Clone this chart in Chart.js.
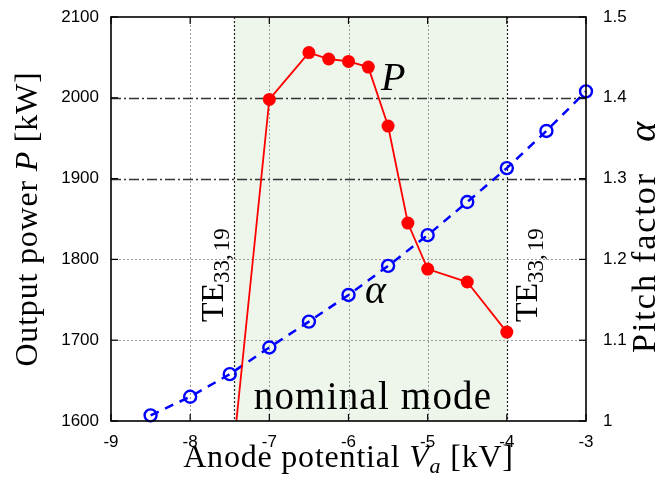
<!DOCTYPE html>
<html><head><meta charset="utf-8">
<script src="https://cdn.jsdelivr.net/npm/chart.js@4.4.0/dist/chart.umd.min.js"></script>
<style>html,body{margin:0;padding:0;background:#fff;} #wrap{width:669px;height:487px;}</style>
</head><body><div id="wrap"><canvas id="c" width="669" height="487"></canvas></div>
<script>
// ---- data ----
const powerVoltage = [-7.5, -7, -6.5, -6.25, -6, -5.75, -5.5, -5.25, -5, -4.5, -4];
const outputPower = [1520, 1998, 2056, 2048, 2045, 2038, 1965, 1845, 1788, 1772, 1710];
const alphaVoltage = [-8.5, -8, -7.5, -7, -6.5, -6, -5.5, -5, -4.5, -4, -3.5, -3];
const pitchFactor = [1.007, 1.030, 1.058, 1.091, 1.123, 1.156, 1.192, 1.230, 1.271, 1.313, 1.359, 1.408];
const xTickLabels = ['-9', '-8', '-7', '-6', '-5', '-4', '-3'];
const powerTickLabels = ['1600', '1700', '1800', '1900', '2000', '2100'];
const pitchTickLabels = ['1', '1.1', '1.2', '1.3', '1.4', '1.5'];
const nominalModeRange = [-7.45, -4];
const referencePowerLevels = [1900, 2000];

const SERIF = '"Liberation Serif", "Times New Roman", serif';
const SANS = '"Liberation Sans", Arial, sans-serif';

function drawRuns(ctx, runs, x, y, align) {
  let total = 0;
  runs.forEach(r => { ctx.font = r.font; r.w = ctx.measureText(r.text).width; total += r.w + (r.gap || 0); });
  let cx = align === 'center' ? x - total / 2 : x;
  runs.forEach(r => { ctx.font = r.font; ctx.fillText(r.text, cx, y + (r.dy || 0)); cx += r.w + (r.gap || 0); });
}
function seg(ctx, x0, y0, x1, y1) { ctx.beginPath(); ctx.moveTo(x0, y0); ctx.lineTo(x1, y1); ctx.stroke(); }
function noPad(s) { s.paddingTop = 0; s.paddingBottom = 0; s.paddingLeft = 0; s.paddingRight = 0; }

const decor = {
  id: 'decor',
  beforeDatasetsDraw(chart) {
    const { ctx, chartArea: a, scales: { x, y } } = chart;
    ctx.save();
    const s0 = x.getPixelForValue(nominalModeRange[0]), s1 = x.getPixelForValue(nominalModeRange[1]);
    ctx.fillStyle = '#eef6ec';
    ctx.fillRect(s0, a.top, s1 - s0, a.bottom - a.top);
    ctx.lineWidth = 1;
    ctx.strokeStyle = '#9a9a9a';
    ctx.setLineDash([2, 2]);
    x.ticks.forEach(t => {
      const px = Math.round(x.getPixelForValue(t.value)) + 0.5;
      if (px <= a.left + 2 || px >= a.right - 2) return;
      seg(ctx, px, a.top, px, a.bottom);
    });
    y.ticks.forEach(t => {
      const py = Math.round(y.getPixelForValue(t.value)) + 0.5;
      if (py <= a.top + 2 || py >= a.bottom - 2) return;
      if (referencePowerLevels.includes(t.value)) {
        ctx.strokeStyle = '#333'; ctx.lineWidth = 1.5; ctx.setLineDash([10, 3, 2, 3]);
      } else {
        ctx.strokeStyle = '#9a9a9a'; ctx.lineWidth = 1; ctx.setLineDash([2, 2]);
      }
      seg(ctx, a.left, py, a.right, py);
    });
    ctx.strokeStyle = '#222'; ctx.lineWidth = 1.2; ctx.setLineDash([2, 2]);
    nominalModeRange.forEach(v => {
      const px = Math.round(x.getPixelForValue(v)) + 0.5;
      seg(ctx, px, a.top, px, a.bottom);
    });
    ctx.restore();
  },
  afterDraw(chart) {
    const { ctx, chartArea: a, scales: { x, y, y1 } } = chart;
    ctx.save();
    ctx.setLineDash([]);
    ctx.strokeStyle = '#000';
    ctx.lineWidth = 1.6;
    ctx.strokeRect(a.left, a.top, a.right - a.left, a.bottom - a.top);
    ctx.lineWidth = 1.2;
    x.ticks.forEach(t => {
      const px = x.getPixelForValue(t.value);
      seg(ctx, px, a.bottom, px, a.bottom - 7);
      seg(ctx, px, a.top, px, a.top + 7);
    });
    y.ticks.forEach(t => {
      const py = y.getPixelForValue(t.value);
      seg(ctx, a.left, py, a.left + 7, py);
    });
    y1.ticks.forEach(t => {
      const py = y1.getPixelForValue(t.value);
      seg(ctx, a.right, py, a.right - 7, py);
    });

    ctx.fillStyle = '#000';
    ctx.textBaseline = 'alphabetic';
    ctx.letterSpacing = '0.8px';
    // bottom title
    drawRuns(ctx, [
      { text: 'Anode potential ', font: '32px ' + SERIF },
      { text: 'V', font: 'italic 32px ' + SERIF },
      { text: 'a', font: 'italic 22px ' + SERIF, dy: 6 },
      { text: ' [kV]', font: '32px ' + SERIF }
    ], (a.left + a.right) / 2, 467, 'center');
    // left title
    ctx.save();
    ctx.translate(37, (a.top + a.bottom) / 2);
    ctx.rotate(-Math.PI / 2);
    drawRuns(ctx, [
      { text: 'Output power ', font: '32px ' + SERIF },
      { text: 'P', font: 'italic 32px ' + SERIF },
      { text: ' [kW]', font: '32px ' + SERIF }
    ], 0, 0, 'center');
    ctx.restore();
    // right title
    ctx.save();
    ctx.translate(655, 353);
    ctx.rotate(-Math.PI / 2);
    ctx.letterSpacing = '2px';
    drawRuns(ctx, [
      { text: 'Pitch', font: '34px ' + SERIF, gap: 10 },
      { text: 'factor', font: '34px ' + SERIF, gap: 30 },
      { text: 'α', font: 'italic 38px ' + SERIF }
    ], 0, 0, 'left');
    ctx.restore();

    ctx.letterSpacing = '0px';
    // mode labels
    const teRuns = () => [
      { text: 'TE', font: '32px ' + SERIF },
      { text: '33,', font: '23px ' + SERIF, dy: 6, gap: 3 },
      { text: '19', font: '23px ' + SERIF, dy: 6 }
    ];
    [[x.getPixelForValue(nominalModeRange[0]) - 11, 322], [x.getPixelForValue(nominalModeRange[1]) + 30, 322]].forEach(([bx, by]) => {
      ctx.save();
      ctx.translate(bx, by);
      ctx.rotate(-Math.PI / 2);
      drawRuns(ctx, teRuns(), 0, 0, 'left');
      ctx.restore();
    });
    // series labels
    ctx.font = 'italic 40px ' + SERIF;
    ctx.fillText('P', 381, 90);
    ctx.fillText('α', 365, 303);
    ctx.letterSpacing = '1.2px';
    ctx.font = '39px ' + SERIF;
    ctx.textAlign = 'center';
    ctx.fillText('nominal mode', 373, 409);
    ctx.restore();
  }
};

new Chart(document.getElementById('c'), {
  type: 'line',
  data: {
    datasets: [
      {
        label: 'P',
        data: powerVoltage.map((v, i) => ({ x: v, y: outputPower[i] })),
        xAxisID: 'x', yAxisID: 'y',
        borderColor: '#ff0000', borderWidth: 1.8,
        pointRadius: 6.5, pointBackgroundColor: '#ff0000', pointBorderWidth: 0,
        tension: 0, clip: 0
      },
      {
        label: 'alpha',
        data: alphaVoltage.map((v, i) => ({ x: v, y: pitchFactor[i] })),
        xAxisID: 'x', yAxisID: 'y1',
        borderColor: '#0000ff', borderWidth: 2.5, borderDash: [9, 7],
        pointRadius: 6, pointBorderColor: '#0000ff', pointBackgroundColor: 'rgba(0,0,0,0)', pointBorderWidth: 2.4,
        tension: 0, clip: false
      }
    ]
  },
  options: {
    responsive: false,
    animation: false,
    events: [],
    layout: { padding: { top: 17, left: 0, right: 0, bottom: 0 } },
    plugins: { legend: { display: false }, tooltip: { enabled: false } },
    scales: {
      x: {
        type: 'linear', position: 'bottom', min: -9, max: -3,
        grid: { display: false, drawTicks: false }, border: { display: false },
        ticks: { stepSize: 1, padding: 11, color: '#000', font: { family: SANS, size: 17 }, maxRotation: 0,
          callback: (v, i) => xTickLabels[i] },
        afterFit: s => { s.height = 66; noPad(s); }
      },
      y: {
        type: 'linear', position: 'left', min: 1600, max: 2100,
        grid: { display: false, drawTicks: false }, border: { display: false },
        ticks: { stepSize: 100, padding: 12, color: '#000', font: { family: SANS, size: 17 },
          callback: (v, i) => powerTickLabels[i] },
        afterFit: s => { s.width = 111; noPad(s); }
      },
      y1: {
        type: 'linear', position: 'right', min: 1, max: 1.5,
        grid: { display: false, drawTicks: false }, border: { display: false },
        ticks: { stepSize: 0.1, padding: 17, color: '#000', font: { family: SANS, size: 17 },
          callback: (v, i) => pitchTickLabels[i] },
        afterFit: s => { s.width = 83; noPad(s); }
      }
    }
  },
  plugins: [decor]
});
</script>
</body></html>
